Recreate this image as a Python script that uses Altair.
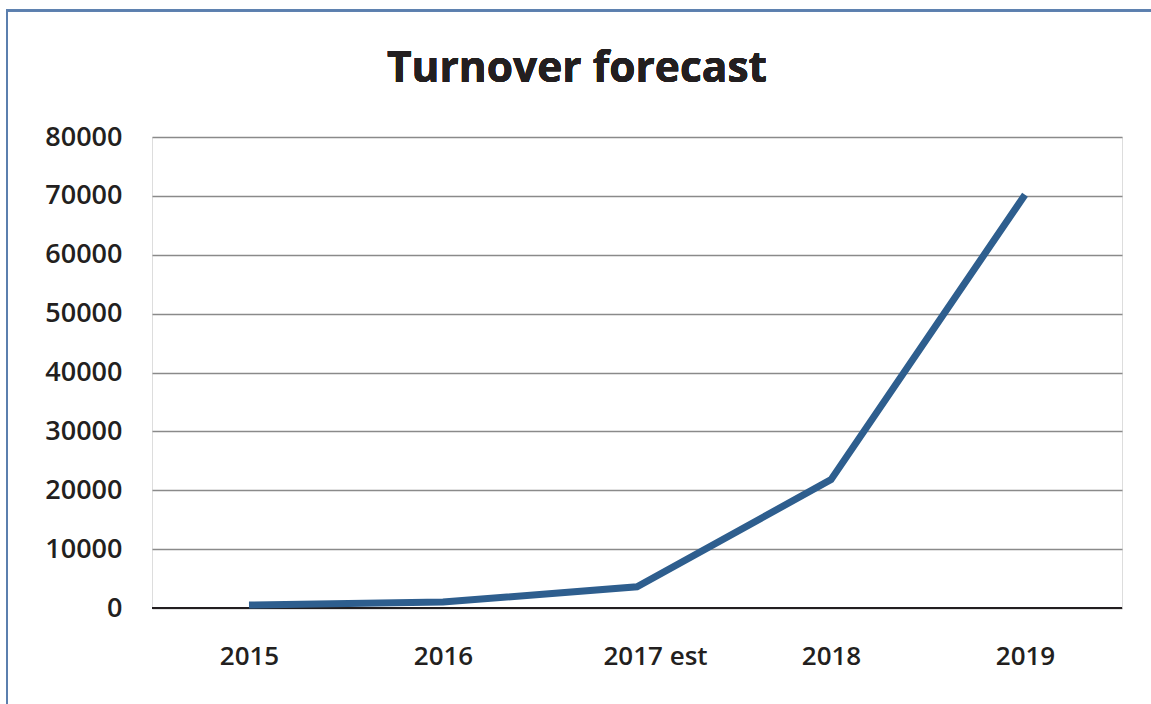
import altair as alt
import pandas as pd

years = ["2015", "2016", "2017 est", "2018", "2019"]
turnover = [500, 1000, 3600, 21800, 70200]
y_ticks = [0, 10000, 20000, 30000, 40000, 50000, 60000, 70000, 80000]
title_text = "Turnover forecast"

df = pd.DataFrame({"year": years, "turnover": turnover})

FONT = "Open Sans"
TXT = "#231f20"

x_enc = alt.X("year:N", sort=years, title=None,
              scale=alt.Scale(type="point", padding=0.5),
              axis=alt.Axis(labelAngle=0, domain=False, ticks=False, grid=False,
                            labelFont=FONT, labelFontSize=26, labelFontWeight=600,
                            labelColor=TXT, labelPadding=35,
                            labelOffset={"condition": {"test": "datum.value == '2017 est'", "value": 18},
                                         "value": 0}))
y_enc = alt.Y("turnover:Q", title=None,
              scale=alt.Scale(domain=[0, 80000], nice=False),
              axis=alt.Axis(values=y_ticks, format="d", domain=False, ticks=False,
                            grid=True, gridColor="#8a8a8a", gridWidth=1.5,
                            labelFont=FONT, labelFontSize=27, labelFontWeight=600,
                            labelColor=TXT, labelPadding=30))

border = alt.Chart(df).mark_rect(fill=None, stroke="#5b7fae", strokeWidth=2).encode(
    x=alt.value(-145), x2=alt.value(1100), y=alt.value(-126.5), y2=alt.value(700)
)

title = alt.Chart(df).mark_text(font=FONT, fontSize=42.5, fontWeight="bold", color=TXT,
                                align="center", baseline="alphabetic").encode(
    x=alt.value(425), y=alt.value(-55), text=alt.value(title_text)
)

zero = alt.Chart(df).mark_rule(color=TXT, strokeWidth=1.5).encode(y=alt.datum(0))

line = alt.Chart(df).mark_line(color="#2e5e8e", strokeWidth=7, strokeCap="butt",
                               strokeJoin="miter").encode(x=x_enc, y=y_enc)

chart = alt.layer(zero, line, border, title).properties(
    width=970, height=471,
    autosize=alt.AutoSizeParams(type="none"),
    padding={"left": 152, "top": 137, "right": 29, "bottom": 96},
).configure_view(stroke=None).configure(background="white")

chart.save("out.html", embed_options={"renderer": "svg", "actions": False})
